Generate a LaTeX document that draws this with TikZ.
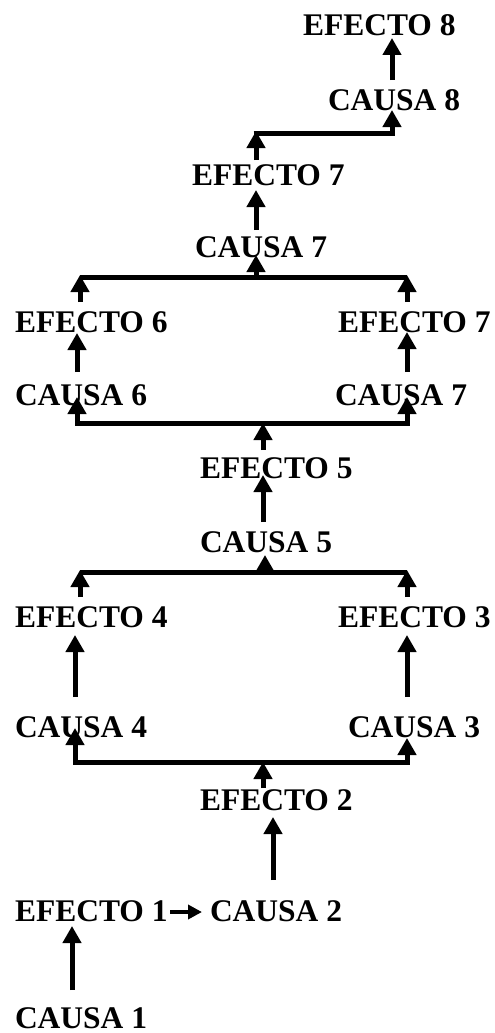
\documentclass[tikz,border=0pt]{standalone}
\usepackage{fontspec}
\setmainfont{Liberation Serif}
\usetikzlibrary{arrows.meta}
\tikzset{
  lbl/.style={anchor=base west, inner sep=0pt, outer sep=0pt, font=\fontsize{31.5}{36}\selectfont\bfseries},
  tipbig/.tip={Triangle[width=18pt,length=17pt]},
  arr/.style={line width=5pt, line join=miter, -tipbig},
  arrtwo/.style={line width=5pt, line join=miter, tipbig-tipbig},
  bar/.style={line width=5pt},
  arrsmall/.style={line width=4.5pt, -{Triangle[width=14pt,length=14pt]}}
}
\begin{document}
\begin{tikzpicture}[x=1pt,y=-1pt]
\useasboundingbox (0,0) rectangle (495,1033);
% labels
\node[lbl] (e8)  at (303,36)   {EFECTO 8};
\node[lbl] (c8)  at (328,110)  {CAUSA 8};
\node[lbl] (e7a) at (192,185)  {EFECTO 7};
\node[lbl] (c7a) at (195,257)  {CAUSA 7};
\node[lbl] (e6)  at (15,332)   {EFECTO 6};
\node[lbl] (e7b) at (338,332)  {EFECTO 7};
\node[lbl] (c6)  at (15,405)   {CAUSA 6};
\node[lbl] (c7b) at (335,405)  {CAUSA 7};
\node[lbl] (e5)  at (200,478)  {EFECTO 5};
\node[lbl] (c5)  at (200,552)  {CAUSA 5};
\node[lbl] (e4)  at (15,627)   {EFECTO 4};
\node[lbl] (e3)  at (338,627)  {EFECTO 3};
\node[lbl] (c4)  at (15,737)   {CAUSA 4};
\node[lbl] (c3)  at (348,737)  {CAUSA 3};
\node[lbl] (e2)  at (200,810)  {EFECTO 2};
\node[lbl] (e1)  at (15,921)   {EFECTO 1};
\node[lbl] (c2)  at (210,921)  {CAUSA 2};
\node[lbl] (c1)  at (15,1028)  {CAUSA 1};
% junction coordinates
\coordinate (jA)  at (263,762);
\coordinate (jAl) at (75,762);
\coordinate (jAr) at (407,762);
\coordinate (jB)  at (265,572);
\coordinate (jBl) at (80,572);
\coordinate (jBr) at (407,572);
\coordinate (jC)  at (263,423);
\coordinate (jCl) at (77,423);
\coordinate (jCr) at (407,423);
\coordinate (jD)  at (256,277);
\coordinate (jDl) at (80,277);
\coordinate (jDr) at (407,277);
\coordinate (jEl) at (256,133);
\coordinate (jEr) at (392,133);
% connectors
\draw[arr] ([xshift=57pt,yshift=38pt]c1.base west) -- ([xshift=57pt,yshift=-5pt]e1.base west);
\draw[arrsmall] ([xshift=155pt,yshift=9pt]e1.base west) -- ([xshift=-8pt,yshift=9pt]c2.base west);
\draw[arr] ([xshift=63pt,yshift=41pt]c2.base west) -- ([xshift=73pt,yshift=-7pt]e2.base west);
\draw[arr] ([xshift=63pt,yshift=22pt]e2.base west) -- (jA);
\draw[arrtwo] ([xshift=60pt,yshift=9pt]c4.base west) -- (jAl) -- (jAr) -- ([xshift=59pt,yshift=-1pt]c3.base west);
\draw[arr] ([xshift=60pt,yshift=40pt]c4.base west) -- ([xshift=60pt,yshift=-8pt]e4.base west);
\draw[arr] ([xshift=59pt,yshift=40pt]c3.base west) -- ([xshift=69pt,yshift=-8pt]e3.base west);
\draw[arr] ([xshift=65pt,yshift=30pt]e4.base west) -- ([yshift=2pt]jBl);
\draw[arr] ([xshift=69pt,yshift=30pt]e3.base west) -- ([yshift=2pt]jBr);
\draw[bar] (jBl) -- (jBr);
\draw[arr] (jB) -- ([xshift=65pt,yshift=-3pt]c5.base west);
\draw[arr] ([xshift=63pt,yshift=30pt]c5.base west) -- ([xshift=63pt,yshift=3pt]e5.base west);
\draw[arr] ([xshift=63pt,yshift=28pt]e5.base west) -- (jC);
\draw[arrtwo] ([xshift=62pt,yshift=8pt]c6.base west) -- (jCl) -- (jCr) -- ([xshift=72pt,yshift=8pt]c7b.base west);
\draw[arr] ([xshift=62pt,yshift=33pt]c6.base west) -- ([xshift=62pt,yshift=-1pt]e6.base west);
\draw[arr] ([xshift=72pt,yshift=33pt]c7b.base west) -- ([xshift=69pt,yshift=0pt]e7b.base west);
\draw[arr] ([xshift=65pt,yshift=30pt]e6.base west) -- ([yshift=2pt]jDl);
\draw[arr] ([xshift=69pt,yshift=30pt]e7b.base west) -- ([yshift=2pt]jDr);
\draw[bar] (jDl) -- (jDr);
\draw[arr] (jD) -- ([xshift=61pt,yshift=2pt]c7a.base west);
\draw[arr] ([xshift=61pt,yshift=27pt]c7a.base west) -- ([xshift=64pt,yshift=-5pt]e7a.base west);
\draw[arr] ([xshift=64pt,yshift=25pt]e7a.base west) -- ([yshift=2pt]jEl);
\draw[arr] ([xshift=-2.5pt]jEl) -- (jEr) -- ([xshift=64pt,yshift=0pt]c8.base west);
\draw[arr] ([xshift=64pt,yshift=30pt]c8.base west) -- ([xshift=89pt,yshift=-2pt]e8.base west);
\end{tikzpicture}
\end{document}
